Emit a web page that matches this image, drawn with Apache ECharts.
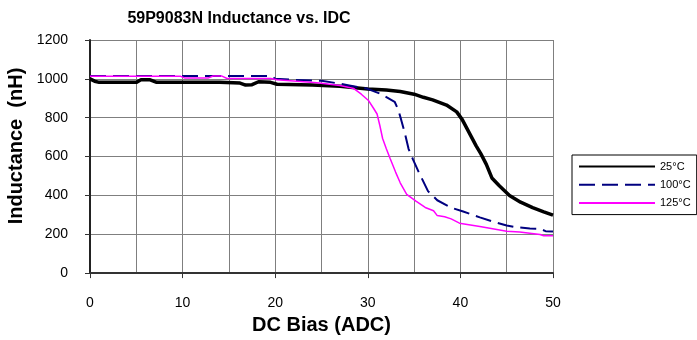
<!DOCTYPE html>
<html>
<head>
<meta charset="utf-8">
<script src="https://cdn.jsdelivr.net/npm/echarts@6/dist/echarts.min.js"></script>
<style>
    html, body { margin: 0; padding: 0; background: #fff; }
    #chart { width: 697px; height: 340px; }
</style>
</head>
<body>
<div id="chart"></div>
<script>
// 25°C
var x25 = [0, 0.5, 1, 3, 5, 5.5, 6.5, 7.2, 10, 14, 16.2, 16.8, 17.5, 18.2, 19.5, 20.2, 24, 27, 30, 32, 33.5, 35, 36, 37, 38.5, 39.6, 40.2, 40.7, 41.2, 41.7, 42.2, 42.8, 43.4, 44.2, 45.3, 46.5, 47.8, 49, 50];
var y25 = [1000, 988, 982, 982, 982, 995, 995, 982, 982, 982, 978, 968, 970, 985, 982, 972, 968, 962, 948, 942, 935, 921, 905, 892, 865, 830, 790, 745, 700, 655, 615, 560, 490, 450, 400, 365, 337, 315, 298];
// 100°C
var x100 = [0, 5, 10, 15, 19.6, 20, 22, 25, 26.6, 28, 29.9, 31.3, 32.9, 33.3, 33.6, 34, 34.4, 34.9, 35.5, 36.5, 37.5, 39, 40.3, 42.1, 43.5, 45, 46.1, 47.5, 48.6, 49.2, 50];
var y100 = [1015, 1015, 1015, 1015, 1015, 1000, 995, 990, 978, 966, 950, 924, 882, 840, 790, 720, 640, 583, 520, 422, 375, 337, 317, 287, 265, 245, 236, 230, 228, 216, 214];
// 125°C
var x125 = [0, 9.8, 10.2, 12.8, 13.3, 14.2, 14.8, 19.5, 20.2, 23.8, 24.5, 27, 28.5, 29.3, 30.1, 30.6, 31, 31.3, 31.6, 32, 32.4, 33, 33.5, 34.2, 35.2, 36.2, 37.1, 37.5, 38.3, 39, 39.9, 42.1, 45, 46.4, 48.6, 49, 50];
var y125 = [1013, 1013, 1005, 1005, 1015, 1015, 1002, 1002, 995, 983, 980, 966, 950, 921, 887, 850, 819, 760, 693, 640, 591, 520, 465, 405, 370, 338, 321, 296, 290, 279, 257, 240, 216, 211, 199, 192, 192];

var seriesNames = ['25°C', '100°C', '125°C'];

function pairs(xs, ys) {
    var out = [];
    for (var i = 0; i < xs.length; i++) {
        out.push([xs[i], ys[i]]);
    }
    return out;
}

var chart = echarts.init(document.getElementById('chart'));
var font = 'Liberation Sans';

chart.setOption({
    backgroundColor: '#fff',
    animation: false,
    grid: { left: 90, top: 40, width: 463, height: 236, containLabel: false },
    legend: {
        orient: 'vertical',
        left: 572,
        top: 155,
        padding: [6, 6, 6, 6],
        itemWidth: 76,
        itemHeight: 14,
        itemGap: 7,
        borderColor: '#000',
        borderWidth: 1,
        itemStyle: { opacity: 0 },
        textStyle: { fontFamily: font, fontSize: 11, color: '#000' },
        data: seriesNames
    },
    xAxis: {
        type: 'value',
        min: 0,
        max: 50,
        interval: 10,
        name: 'DC Bias (ADC)',
        nameLocation: 'middle',
        nameGap: 40,
        nameTextStyle: { fontFamily: font, fontSize: 20, fontWeight: 'bold', color: '#000' },
        axisLine: { show: true, onZero: false, lineStyle: { color: '#333', width: 2 } },
        axisTick: { show: true, inside: false, length: 5, lineStyle: { color: '#333', width: 1 } },
        axisLabel: { fontFamily: font, fontSize: 14, color: '#000', margin: 23 },
        splitLine: { show: true, lineStyle: { color: '#7f7f7f', width: 1 } },
        minorTick: { show: false, splitNumber: 2 },
        minorSplitLine: { show: true, lineStyle: { color: '#7f7f7f', width: 1 } }
    },
    yAxis: {
        type: 'value',
        min: 0,
        max: 1200,
        interval: 200,
        axisLine: { show: true, lineStyle: { color: '#222', width: 2 } },
        axisTick: { show: true, inside: false, length: 5, lineStyle: { color: '#333', width: 1 } },
        axisLabel: {
            fontFamily: font, fontSize: 14, color: '#000', margin: 22,
            formatter: function (v) { return String(v); }
        },
        splitLine: { show: true, lineStyle: { color: '#7f7f7f', width: 1 } }
    },
    graphic: [
        {
            type: 'text',
            x: 239,
            y: 19,
            style: {
                text: '59P9083N Inductance vs. IDC',
                fontFamily: font, fontSize: 16, fontWeight: 'bold', fill: '#000',
                align: 'center', verticalAlign: 'middle'
            }
        },
        {
            type: 'text',
            x: 16,
            y: 146,
            rotation: Math.PI / 2,
            style: {
                text: 'Inductance  (nH)',
                fontFamily: font, fontSize: 20, fontWeight: 'bold', fill: '#000',
                align: 'center', verticalAlign: 'middle'
            }
        }
    ],
    series: [
        {
            name: seriesNames[0],
            type: 'line',
            symbol: 'none',
            data: pairs(x25, y25),
            lineStyle: { color: '#000', width: 3.5 },
            itemStyle: { color: '#000' }
        },
        {
            name: seriesNames[1],
            type: 'line',
            symbol: 'none',
            data: pairs(x100, y100),
            lineStyle: { color: '#000080', width: 2, type: [16, 7] },
            itemStyle: { color: '#000080' }
        },
        {
            name: seriesNames[2],
            type: 'line',
            symbol: 'none',
            data: pairs(x125, y125),
            lineStyle: { color: '#ff00ff', width: 1.5 },
            itemStyle: { color: '#ff00ff' }
        }
    ]
});
</script>
</body>
</html>
